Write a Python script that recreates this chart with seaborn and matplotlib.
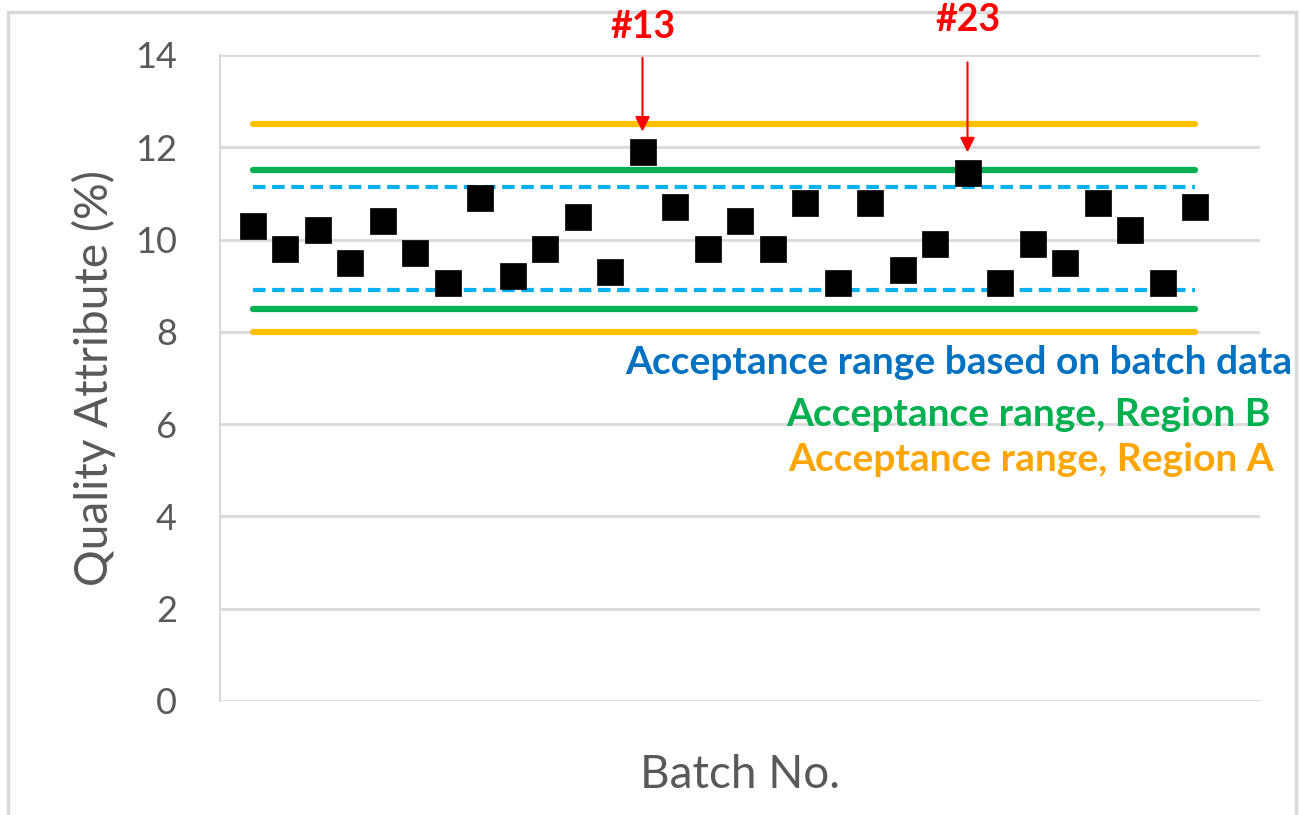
import matplotlib
matplotlib.use("Agg")
import matplotlib.pyplot as plt
import seaborn as sns
import pandas as pd
from matplotlib.patches import Rectangle

# batch results
batch_no = list(range(1, 31))
quality = [10.3, 9.8, 10.2, 9.5, 10.4, 9.7, 9.05, 10.9, 9.2, 9.8,
           10.5, 9.3, 11.9, 10.7, 9.8, 10.4, 9.8, 10.8, 9.05, 10.8,
           9.35, 9.9, 11.45, 9.05, 9.9, 9.5, 10.8, 10.2, 9.05, 10.7]

# acceptance limits (lower, upper)
region_a = [8.0, 12.5]
region_b = [8.5, 11.5]
batch_range = [8.9, 11.15]

flagged = [13, 23]
y_ticks = [0, 2, 4, 6, 8, 10, 12, 14]

df = pd.DataFrame({"batch": batch_no, "value": quality})

sns.set_style("white")
plt.rcParams['font.family'] = ['Lato', 'DejaVu Sans']

fig = plt.figure(figsize=(12.99, 8.15), dpi=100)
ax = fig.add_axes([220 / 1299, 1 - 701 / 815, 1040 / 1299, 646 / 815])

# outer frame like the Excel chart area (drawn beneath everything)
fig.patches.append(Rectangle((8 / 1299, -0.05), 1288 / 1299, 1.05 - 12 / 815,
                             transform=fig.transFigure, fill=False,
                             edgecolor='#d9d9d9', linewidth=2.5, zorder=-1))

x0, x1 = batch_no[0], batch_no[-1]
ax.hlines(region_a, x0, x1, color='#ffc000', linewidth=4.5, capstyle='round', zorder=2)
ax.hlines(region_b, x0, x1, color='#00b050', linewidth=4.5, capstyle='round', zorder=2)
ax.hlines(batch_range, x0, x1, color='#00b0f0', linewidth=3, linestyles=(0, (3, 1.6)), zorder=2)

sns.scatterplot(data=df, x='batch', y='value', marker='s', s=340, color='black',
                edgecolor='black', linewidth=0.5, ax=ax, zorder=3, legend=False)

ax.set_xlim(0, 32)
ax.set_ylim(0, 14)
ax.set_yticks(y_ticks)
ax.set_xticks([])
ax.yaxis.grid(True, color='#d9d9d9', linewidth=2)
ax.set_axisbelow(True)
for s in ['top', 'right', 'bottom']:
    ax.spines[s].set_visible(False)
ax.spines['left'].set_color('#d9d9d9')
ax.spines['left'].set_linewidth(1.5)
ax.tick_params(axis='y', length=0, pad=31, labelsize=26, labelcolor='#595959')

ax.set_ylabel('Quality Attribute (%)', fontsize=33, color='#595959', labelpad=14)
ax.set_xlabel('Batch No.', fontsize=33, color='#595959', labelpad=38)

# flagged batches
for b, ytop, ylab in zip(flagged, [14.0, 13.9], [14.6, 14.75]):
    v = quality[b - 1]
    ax.annotate('', xy=(b, v + 0.38), xytext=(b, ytop),
                arrowprops=dict(arrowstyle='-|>', color='red', lw=1.5, mutation_scale=22),
                annotation_clip=False)
    ax.text(b, ylab, '#%d' % b, color='red', fontsize=27,
            fontweight='bold', ha='center', va='center', clip_on=False)

fig.text(1292 / 1299, 1 - 362 / 815, 'Acceptance range based on batch data', color='#0070c0',
         fontsize=28, fontweight='bold', ha='right', va='center')
fig.text(1271 / 1299, 1 - 415 / 815, 'Acceptance range, Region B', color='#00b050',
         fontsize=28, fontweight='bold', ha='right', va='center')
fig.text(1274 / 1299, 1 - 460 / 815, 'Acceptance range, Region A', color='#ffa500',
         fontsize=28, fontweight='bold', ha='right', va='center')

fig.savefig('out.png', dpi=100)
